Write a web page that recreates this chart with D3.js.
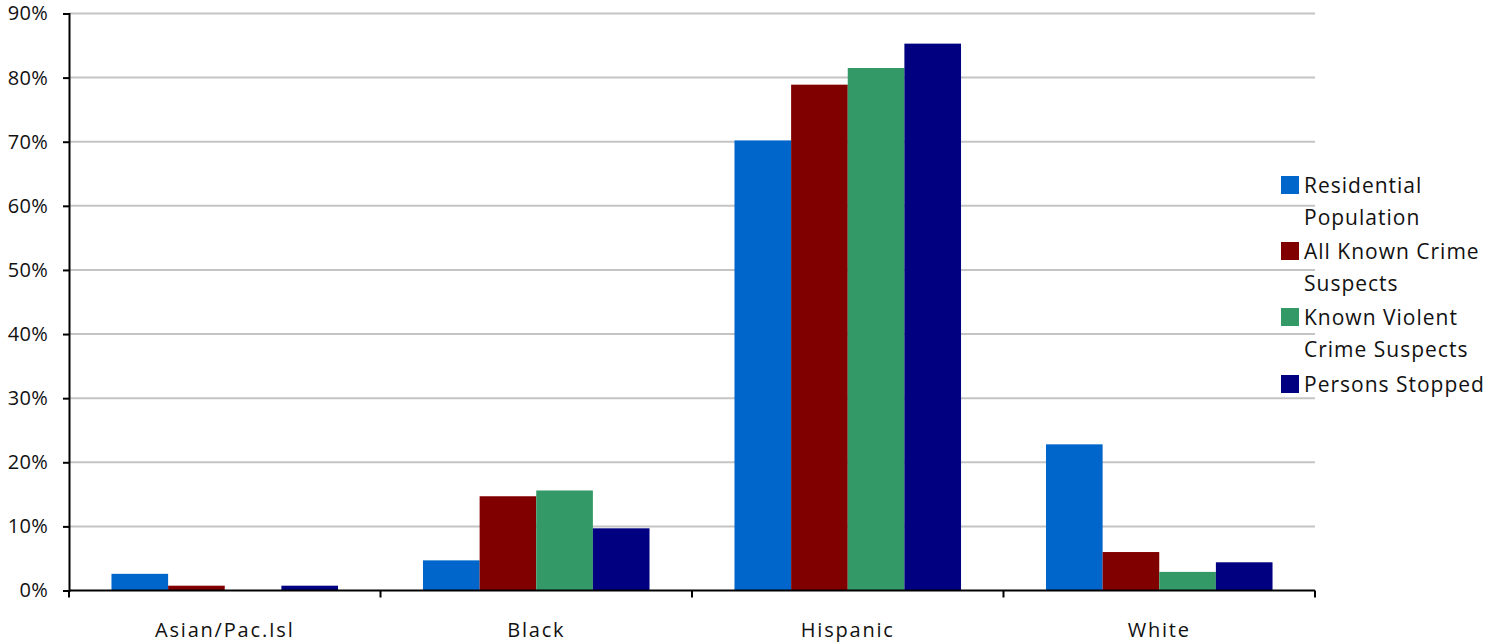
<!DOCTYPE html>
<html><head><meta charset="utf-8">
<script src="https://cdn.jsdelivr.net/npm/d3@7"></script>
<style>body{margin:0;background:#fff;} text{font-family:"Open Sans",sans-serif;fill:#111;}</style>
</head><body>
<svg id="c" width="1502" height="644"></svg>
<script>
const categories = ["Asian/Pac.Isl", "Black", "Hispanic", "White"];
const seriesNames = ["Residential Population", "All Known Crime Suspects", "Known Violent Crime Suspects", "Persons Stopped"];
const residential = [2.6, 4.7, 70.2, 22.8];
const allSuspects = [0.75, 14.7, 78.9, 6.0];
const violentSuspects = [0, 15.6, 81.5, 2.9];
const personsStopped = [0.75, 9.7, 85.3, 4.4];
const yTicks = [0, 10, 20, 30, 40, 50, 60, 70, 80, 90];
const colors = ["#0066CC", "#800000", "#339966", "#000080"];
const legendLines = [["Residential", "Population"], ["All Known Crime", "Suspects"], ["Known Violent", "Crime Suspects"], ["Persons Stopped"]];

const series = [residential, allSuspects, violentSuspects, personsStopped];
const svg = d3.select("#c");
const m = {l: 69, r: 1315, t: 13.5, b: 590.5};
const x0 = d3.scaleBand().domain(categories).range([m.l, m.r]).paddingInner(0).paddingOuter(0);
const x1 = d3.scaleBand().domain(d3.range(4)).range([0, x0.bandwidth()]).paddingOuter(0.75).paddingInner(0);
const y = d3.scaleLinear().domain([0, 90]).range([m.b, m.t]);

// gridlines
svg.append("g").selectAll("line").data(yTicks.filter(d => d > 0)).join("line")
  .attr("x1", m.l).attr("x2", m.r).attr("y1", d => y(d)).attr("y2", d => y(d))
  .attr("stroke", "#c4c4c4").attr("stroke-width", 2);

// bars
const g = svg.append("g");
categories.forEach((c, ci) => {
  series.forEach((s, si) => {
    g.append("rect").attr("x", x0(c) + x1(si)).attr("width", x1.bandwidth())
      .attr("y", y(s[ci])).attr("height", y(0) - y(s[ci])).attr("fill", colors[si]);
  });
});

// y axis
const ya = d3.axisLeft(y).tickValues(yTicks).tickFormat(d => d + "%").tickSize(6).tickPadding(15);
const yg = svg.append("g").attr("transform", `translate(${m.l},0)`).call(ya);
yg.select(".domain").attr("stroke", "#000").attr("stroke-width", 2);
yg.selectAll(".tick line").attr("stroke", "#000").attr("stroke-width", 2);
yg.selectAll("text").style("font-size", "20px").style("letter-spacing", "0.3px").attr("fill", "#111");

// x axis
const xa = d3.axisBottom(x0).tickSize(0).tickPadding(32);
const xg = svg.append("g").attr("transform", `translate(0,${m.b})`).call(xa);
xg.select(".domain").attr("stroke", "#000").attr("stroke-width", 2).attr("d", `M${m.l},0H${m.r}`);
xg.selectAll("text").style("font-size", "20px").style("letter-spacing", "1.8px").attr("fill", "#111");
const bounds = categories.map(c => x0(c)).concat([m.r]);
xg.append("g").selectAll("line").data(bounds).join("line")
  .attr("x1", d => d).attr("x2", d => d).attr("y1", 0).attr("y2", 7)
  .attr("stroke", "#000").attr("stroke-width", 2);

// legend
const lg = svg.append("g");
const entryY = [176, 242, 308, 375];
legendLines.forEach((lines, i) => {
  lg.append("rect").attr("x", 1281).attr("y", entryY[i]).attr("width", 18).attr("height", 18).attr("fill", colors[i]);
  lines.forEach((t, j) => {
    lg.append("text").attr("x", 1304).attr("y", entryY[i] + 17 + j * 32).text(t)
      .style("font-size", "21px").style("letter-spacing", "1px");
  });
});
</script>
</body></html>
